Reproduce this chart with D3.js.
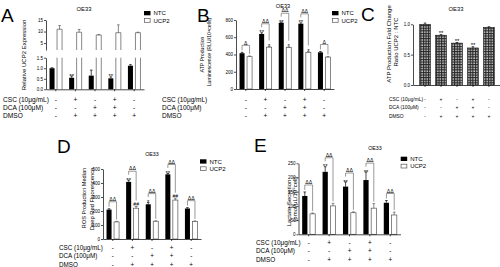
<!DOCTYPE html>
<html>
<head>
<meta charset="utf-8">
<script src="https://cdn.jsdelivr.net/npm/d3@7"></script>
<style>
  body { margin: 0; background: #fff; }
  text { font-family: "Liberation Sans", Arial, sans-serif; }
</style>
</head>
<body>
<div id="svg-holder"></div>
<script>
// shared categories
const groups = [1, 2, 3, 4, 5]
const series = ["NTC", "UCP2"]
const rowNames = ["CSC (10μg/mL)", "DCA (100μM)", "DMSO"]
const cscSigns = ["-", "+", "-", "+", "-"]
const dcaSigns = ["-", "-", "+", "+", "-"]
const dmsoSigns = ["-", "+", "+", "+", "+"]

// A - relative UCP2 expression (broken axis)
const aNtc = [1.0, 0.55, 0.65, 0.52, 1.12]
const aNtcErr = [0.02, 0.08, 0.26, 0.07, 0.05]
const aUcp = [11.0, 9.7, 8.5, 9.5, 9.5]
const aUcpErr = [1.6, 1.2, 0.2, 3.4, 0.2]
const aNtcStars = ["", "**", "", "**", ""]
const aLowTicks = [0, 0.5, 1.0, 1.5]
const aHighTicks = [5, 10, 15]

// B - ATP production
const bNtc = [415, 638, 768, 757, 425]
const bNtcErr = [10, 14, 6, 10, 10]
const bUcp = [375, 485, 482, 425, 370]
const bUcpErr = [8, 8, 8, 10, 6]
const bNtcStars = ["", "**", "**", "**", ""]
const bUcpStars = ["", "*", "*", "*", ""]
const bPair = ["Δ", "ΔΔ", "ΔΔ", "ΔΔ", "Δ"]
const bTicks = [0, 200, 400, 600, 800]

// C - fold change ratio
const cVals = [1.0, 0.82, 0.69, 0.61, 0.95]
const cErr = [0.02, 0.01, 0.01, 0.02, 0.01]
const cStars = ["", "**", "**", "**", ""]
const cTicks = [0, 0.5, 1.0]

// D - ROS production
const dNtc = [210, 408, 248, 462, 218]
const dNtcErr = [6, 12, 12, 6, 6]
const dUcp = [122, 220, 127, 278, 126]
const dUcpErr = [4, 12, 3, 10, 3]
const dNtcStars = ["", "**", "*", "**", ""]
const dUcpStars = ["", "##", "", "##", ""]
const dPair = ["ΔΔ", "ΔΔ", "ΔΔ", "ΔΔ", "ΔΔ"]
const dTicks = [0, 100, 200, 300, 400, 500]

// E - lactate secretion
const eNtc = [135, 220, 168, 191, 111]
const eNtcErr = [14, 18, 16, 28, 8]
const eUcp = [72, 100, 76, 92, 68]
const eUcpErr = [3, 9, 3, 16, 10]
const eNtcStars = ["", "**", "**", "**", ""]
const eUcpStars = ["", "", "", "", ""]
const ePair = ["ΔΔ", "ΔΔ", "ΔΔ", "ΔΔ", "ΔΔ"]
const eTicks = [0, 50, 100, 150, 200, 250]

const FONT = '"Liberation Sans", Arial, sans-serif'
const GREY = '#555'

let svg = d3.select("#svg-holder").append('svg')
svg.attr("width", 500).attr("height", 267)

let pat = svg.append('defs').append('pattern')
    .attr('id', 'checker')
    .attr('patternUnits', 'userSpaceOnUse')
    .attr('width', 2.6).attr('height', 2.6)
pat.append('rect').attr('width', 2.6).attr('height', 2.6).attr('fill', '#262626')
pat.append('rect').attr('x', 0.3).attr('y', 0.3).attr('width', 1.3).attr('height', 1.3).attr('fill', '#fff')

function styleAxis(g, size) {
    g.attr('font-family', FONT).attr('font-size', size || 4.5)
    g.selectAll('path, line').attr('stroke', '#000').attr('stroke-width', 0.7)
    g.selectAll('text').attr('fill', '#000')
}

function yAxis(y, x, ticks, fmt) {
    svg.append('g')
        .attr('transform', `translate(${x},0)`)
        .call(d3.axisLeft(y).tickValues(ticks).tickSize(2).tickSizeOuter(0).tickPadding(1).tickFormat(fmt || d3.format('d')))
        .call(styleAxis)
}

function xAxis(x, y0) {
    svg.append('g')
        .attr('transform', `translate(0,${y0})`)
        .call(d3.axisBottom(x).tickSize(2).tickSizeOuter(0).tickFormat(''))
        .call(styleAxis)
}

function text(x, y, str, size, anchor) {
    return svg.append('text')
        .attr('x', x).attr('y', y)
        .attr('font-size', size)
        .attr('text-anchor', anchor || 'start')
        .attr('fill', '#000')
        .text(str)
}

function yLabel(cx, cy, str, size) {
    svg.append('text')
        .attr('transform', `translate(${cx},${cy}) rotate(-90)`)
        .attr('dy', '0.35em')
        .attr('font-size', size)
        .attr('text-anchor', 'middle')
        .text(str)
}

function signRows(x, labelX, baselines, size) {
    let rows = [cscSigns, dcaSigns, dmsoSigns]
    rows.forEach((r, k) => {
        text(labelX, baselines[k], rowNames[k], size)
        r.forEach((s, i) => text(x(groups[i]) + x.bandwidth() / 2, baselines[k], s, size, 'middle'))
    })
}

function legend(x, y) {
    svg.append('rect').attr('x', x).attr('y', y).attr('width', 6.5).attr('height', 4.3).attr('fill', '#000')
    text(x + 9.5, y + 4.2, 'NTC', 6)
    svg.append('rect').attr('x', x + 0.35).attr('y', y + 7.5).attr('width', 5.8).attr('height', 3.8)
        .attr('fill', '#fff').attr('stroke', GREY).attr('stroke-width', 0.7)
    text(x + 9.5, y + 11.7, 'UCP2', 6)
}

function errBar(cx, y1, y2, color) {
    svg.append('path')
        .attr('d', `M ${cx} ${y1} V ${y2} M ${cx - 1.3} ${y2} H ${cx + 1.3}`)
        .attr('stroke', color).attr('stroke-width', 0.7).attr('fill', 'none')
}

function mark(cx, yTop, str) {
    if (!str) return
    let hash = str.indexOf('#') >= 0
    text(cx, hash ? yTop - 1 : yTop + 1.6, str, hash ? 5 : 6, 'middle')
}

// grouped NTC / UCP2 bar panel
function groupedPanel(p) {
    let x = d3.scaleBand().domain(groups).range(p.xr)
    let sub = d3.scaleBand().domain(series).range([0, x.bandwidth()]).paddingInner(0.33).paddingOuter(0.47)
    let y = d3.scaleLinear().domain([0, p.ticks[p.ticks.length - 1]]).range(p.yr)
    let cx = (s, i) => x(groups[i]) + sub(s) + sub.bandwidth() / 2

    svg.append('g').selectAll('rect').data(p.ntc).join('rect')
        .attr('x', (d, i) => x(groups[i]) + sub('NTC'))
        .attr('y', d => y(d))
        .attr('width', sub.bandwidth())
        .attr('height', d => y(0) - y(d))
        .attr('fill', '#000')
    svg.append('g').selectAll('rect').data(p.ucp).join('rect')
        .attr('x', (d, i) => x(groups[i]) + sub('UCP2'))
        .attr('y', d => y(d))
        .attr('width', sub.bandwidth())
        .attr('height', d => y(0) - y(d))
        .attr('fill', '#fff').attr('stroke', GREY).attr('stroke-width', 0.7)

    p.ntc.forEach((v, i) => {
        errBar(cx('NTC', i), y(v), y(v + p.ntcErr[i]), '#000')
        errBar(cx('UCP2', i), y(p.ucp[i]), y(p.ucp[i] + p.ucpErr[i]), GREY)
        mark(cx('NTC', i), y(v + p.ntcErr[i]), p.ntcStars[i])
        mark(cx('UCP2', i), y(p.ucp[i] + p.ucpErr[i]), p.ucpStars[i])
        // bracket between the pair
        let nTop = y(v + p.ntcErr[i]), uTop = y(p.ucp[i] + p.ucpErr[i])
        let yb = nTop - (p.ntcStars[i] ? 9 : 7)
        let yl = nTop - (p.ntcStars[i] ? 5.5 : 2)
        let yr = uTop - (p.ucpStars[i] ? 6 : 2)
        svg.append('path')
            .attr('d', `M ${cx('NTC', i)} ${yl} V ${yb} H ${cx('UCP2', i)} V ${yr}`)
            .attr('stroke', GREY).attr('stroke-width', 0.6).attr('fill', 'none')
        text((cx('NTC', i) + cx('UCP2', i)) / 2, yb - 0.8, p.pair[i], 5.2, 'middle')
    })

    yAxis(y, p.xr[0], p.ticks)
    xAxis(x, y(0))
    return x
}

// ---------- A ----------
{
    let x = d3.scaleBand().domain(groups).range([46, 144])
    let sub = d3.scaleBand().domain(series).range([0, x.bandwidth()]).paddingInner(0.33).paddingOuter(0.47)
    let yLo = d3.scaleLinear().domain([0, 1.5]).range([89.3, 57.7])
    let yHi = d3.scaleLinear().domain([2, 15]).range([50, 20])
    let cx = (s, i) => x(groups[i]) + sub(s) + sub.bandwidth() / 2
    let w = sub.bandwidth()

    svg.append('g').selectAll('rect').data(aNtc).join('rect')
        .attr('x', (d, i) => x(groups[i]) + sub('NTC'))
        .attr('y', d => yLo(d))
        .attr('width', w)
        .attr('height', d => yLo(0) - yLo(d))
        .attr('fill', '#000')

    // UCP2 bars run through both segments of the broken axis
    svg.append('g').selectAll('path').data(aUcp).join('path')
        .attr('d', (d, i) => {
            let x0 = x(groups[i]) + sub('UCP2')
            return `M ${x0} ${yLo(1.5)} V ${yLo(0)} M ${x0 + w} ${yLo(1.5)} V ${yLo(0)}` +
                ` M ${x0} ${yHi(2)} V ${yHi(d)} H ${x0 + w} V ${yHi(2)}`
        })
        .attr('fill', 'none').attr('stroke', GREY).attr('stroke-width', 0.7)

    aNtc.forEach((v, i) => {
        errBar(cx('NTC', i), yLo(v), yLo(v + aNtcErr[i]), '#000')
        errBar(cx('UCP2', i), yHi(aUcp[i]), yHi(aUcp[i] + aUcpErr[i]), GREY)
        mark(cx('NTC', i), yLo(v + aNtcErr[i]), aNtcStars[i])
    })

    yAxis(yLo, 46, aLowTicks, d3.format('.1f'))
    yAxis(yHi, 46, aHighTicks)
    xAxis(x, yLo(0))

    text(1, 21.7, 'A', 19)
    text(84, 11, 'OE33', 5.8, 'middle')
    yLabel(24, 55, 'Relative UCP2 Expression', 6)
    legend(144, 11)
    signRows(x, 3, [102, 110, 118.4], 6.6)
}

// ---------- B ----------
{
    let x = groupedPanel({
        xr: [236, 334], yr: [89, 20], ticks: bTicks,
        ntc: bNtc, ntcErr: bNtcErr, ucp: bUcp, ucpErr: bUcpErr,
        ntcStars: bNtcStars, ucpStars: bUcpStars, pair: bPair
    })
    text(197, 21.7, 'B', 19)
    text(283, 7.6, 'OE33', 5.6, 'middle')
    yLabel(202, 54.5, 'ATP Production', 5.2)
    yLabel(209, 52, 'Luminescence (RLU/10⁴cells)', 5.2)
    legend(332, 11)
    signRows(x, 162, [101.8, 109.8, 118], 6.5)
}

// ---------- C ----------
{
    let x = d3.scaleBand().domain(groups).range([413, 501]).paddingInner(0.33).paddingOuter(0.42)
    let y = d3.scaleLinear().domain([0, 1.0]).range([85, 24.3])

    svg.append('g').selectAll('rect').data(cVals).join('rect')
        .attr('x', (d, i) => x(groups[i]))
        .attr('y', d => y(d))
        .attr('width', x.bandwidth())
        .attr('height', d => y(0) - y(d))
        .attr('fill', 'url(#checker)')
        .attr('stroke', '#111').attr('stroke-width', 0.6)

    cVals.forEach((v, i) => {
        let c = x(groups[i]) + x.bandwidth() / 2
        errBar(c, y(v), y(v + cErr[i]), '#000')
        mark(c, y(v + cErr[i]) - 1.5, cStars[i])
    })

    yAxis(y, 413, cTicks, d3.format('.1f'))
    xAxis(x, y(0))

    text(361, 20.7, 'C', 19)
    text(456, 11, 'OE33', 5.8, 'middle')
    yLabel(389, 44, 'ATP Production Fold Change', 6)
    yLabel(395.5, 42, 'Ratio UCP2 : NTC', 6)
    signRows(x, 389, [100.5, 108.5, 117.5], 4.9)
}

// ---------- D ----------
{
    let x = groupedPanel({
        xr: [103, 201], yr: [239, 169], ticks: dTicks,
        ntc: dNtc, ntcErr: dNtcErr, ucp: dUcp, ucpErr: dUcpErr,
        ntcStars: dNtcStars, ucpStars: dUcpStars, pair: dPair
    })
    text(57, 153, 'D', 19)
    text(152, 156, 'OE33', 5.3, 'middle')
    yLabel(84.5, 198, 'ROS Production Median', 5.6)
    yLabel(91.5, 199, 'Deep Red Fluorescence', 5.8)
    legend(200, 159.3)
    signRows(x, 59, [250, 258.3, 266.5], 6.3)
}

// ---------- E ----------
{
    let x = groupedPanel({
        xr: [298.5, 400.5], yr: [234.3, 163.3], ticks: eTicks,
        ntc: eNtc, ntcErr: eNtcErr, ucp: eUcp, ucpErr: eUcpErr,
        ntcStars: eNtcStars, ucpStars: eUcpStars, pair: ePair
    })
    text(254, 152, 'E', 19)
    text(375, 150.3, 'OE33', 5.3, 'middle')
    yLabel(289, 203, 'Lactate Secretion', 6)
    yLabel(295, 199, '(pmol/μL/10⁵cell)', 6)
    legend(400.7, 156.7)
    signRows(x, 256, [244.7, 253.3, 262], 6.4)
}
</script>
</body>
</html>
